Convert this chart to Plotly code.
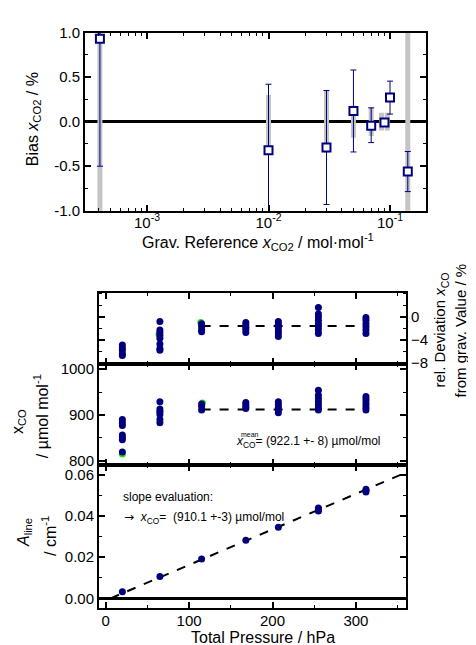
import plotly.graph_objects as go

W, H = 476, 645
FONT = "Liberation Sans, Arial, sans-serif"
NAVY = "#00007f"

# ---------------- top panel data ----------------
ref_x = [0.00041, 0.01, 0.03, 0.05, 0.07, 0.09, 0.1, 0.14]
bias = [0.93, -0.32, -0.29, 0.12, -0.045, -0.01, 0.27, -0.56]
bias_err_plus = [1.5, 0.74, 0.64, 0.46, 0.20, 0.03, 0.185, 0.225]
bias_err_minus = [1.43, 0.74, 0.64, 0.46, 0.19, 0.03, 0.185, 0.225]
gray_x = [0.00041, 0.01, 0.03, 0.05, 0.07, 0.085, 0.095, 0.14]
gray_y = [0, 0, 0, 0, 0, 0, 0, 0]
gray_half = [2.5, 0.30, 0.35, 0.18, 0.16, 0.10, 0.10, 2.5]

# ---------------- bottom panels data ----------------
# panel A: relative deviation (%)
relA_p = [20]*5 + [65]*8 + [115]*4 + [168]*5 + [207]*6 + [255]*8 + [312]*6
relA_v = [-4.9, -5.4, -5.8, -6.4, -6.7,
          -0.8, -2.3, -2.7, -3.2, -3.7, -4.7, -5.5, -5.8,
          -1.2, -1.7, -2.3, -2.6,
          -1.0, -1.4, -1.8, -2.2, -2.7,
          -0.8, -1.3, -1.9, -2.4, -2.9, -3.4,
          1.6, 0.5, -0.05, -0.6, -1.2, -1.7, -2.3, -2.9,
          -0.1, -0.6, -1.2, -1.7, -2.3, -2.9]
greenA_p = [114, 64]
greenA_v = [-1.0, -3.0]
meanA_p = [115, 312]
meanA_v = [-1.6, -1.6]

# panel B: x_CO (umol/mol)
xco_p = [20]*7 + [65]*6 + [115]*3 + [168]*4 + [207]*5 + [255]*7 + [312]*6
xco_v = [890, 883, 877, 856, 851, 846, 819,
         929, 913, 907, 901, 890, 883,
         924, 919, 911,
         927, 922, 918, 914,
         929, 923, 917, 911, 905,
         954, 943, 936, 929, 922, 915, 911,
         940, 934, 928, 922, 916, 911]
greenB_p = [20, 116, 65]
greenB_v = [815, 926, 908]
meanB_p = [115, 312]
meanB_v = [912, 912]

# panel C: A_line (cm^-1)
aline_p = [20, 65, 115, 168, 207, 255, 255, 255, 312, 312, 312]
aline_v = [0.0032, 0.0106, 0.0191, 0.0282, 0.0345, 0.0438, 0.0431, 0.0423, 0.0529, 0.0522, 0.0515]
fit_p = [6, 360]
fit_v = [0.0, 0.061]

def fx(px):
    return px / W

def fy(py):
    return 1 - py / H

fig = go.Figure()

# gray reference-uncertainty bars
fig.add_trace(go.Scatter(
    x=gray_x, y=gray_y, mode="markers", xaxis="x", yaxis="y",
    marker=dict(size=1, color="rgba(0,0,0,0)"),
    error_y=dict(type="data", array=gray_half, color="#c4c4c4", thickness=5, width=0),
    showlegend=False, hoverinfo="skip"))
# bias points
fig.add_trace(go.Scatter(
    x=ref_x, y=bias, mode="markers", xaxis="x", yaxis="y",
    marker=dict(symbol="square", size=8, color="white", line=dict(color=NAVY, width=2)),
    error_y=dict(type="data", array=bias_err_plus, arrayminus=bias_err_minus,
                 color=NAVY, thickness=1, width=3),
    showlegend=False))

# panel A
fig.add_trace(go.Scatter(x=meanA_p, y=meanA_v, mode="lines", xaxis="x2", yaxis="y2",
                         line=dict(color="black", width=2, dash="dash"), showlegend=False))
fig.add_trace(go.Scatter(x=greenA_p, y=greenA_v, mode="markers", xaxis="x2", yaxis="y2",
                         marker=dict(size=7, color="#22dd22"), showlegend=False))
fig.add_trace(go.Scatter(x=relA_p, y=relA_v, mode="markers", xaxis="x2", yaxis="y2",
                         marker=dict(size=7, color=NAVY), showlegend=False))
# panel B
fig.add_trace(go.Scatter(x=meanB_p, y=meanB_v, mode="lines", xaxis="x3", yaxis="y3",
                         line=dict(color="black", width=2, dash="dash"), showlegend=False))
fig.add_trace(go.Scatter(x=greenB_p, y=greenB_v, mode="markers", xaxis="x3", yaxis="y3",
                         marker=dict(size=7, color="#22dd22"), showlegend=False))
fig.add_trace(go.Scatter(x=xco_p, y=xco_v, mode="markers", xaxis="x3", yaxis="y3",
                         marker=dict(size=7, color=NAVY), showlegend=False))
# panel C
fig.add_trace(go.Scatter(x=fit_p, y=fit_v, mode="lines", xaxis="x4", yaxis="y4",
                         line=dict(color="black", width=2, dash="dash"), showlegend=False))
fig.add_trace(go.Scatter(x=aline_p, y=aline_v, mode="markers", xaxis="x4", yaxis="y4",
                         marker=dict(size=7, color=NAVY), showlegend=False))

tickfont = dict(family=FONT, size=15, color="black")
common = dict(showline=True, linewidth=2, linecolor="black", mirror="allticks",
              ticks="inside", ticklen=6, tickwidth=1.5, tickcolor="black",
              showgrid=False, tickfont=tickfont)

log_minor = []
for dec in [1e-4, 1e-3, 1e-2, 1e-1]:
    for m in range(2, 10):
        log_minor.append(m * dec)

fig.update_layout(
    width=W, height=H, margin=dict(l=0, r=0, t=0, b=0),
    paper_bgcolor="white", plot_bgcolor="white",
    font=dict(family=FONT, color="black"),
    showlegend=False,
    xaxis=dict(domain=[fx(77), fx(418)], anchor="y", type="log", range=[-3.51, -0.704],
               tickvals=[1e-3, 1e-2, 1e-1],
               ticktext=["10<sup>-3</sup>", "10<sup>-2</sup>", "10<sup>-1</sup>"],
               ticklabelstandoff=-3,
               minor=dict(ticks="inside", ticklen=3, tickwidth=1, tickcolor="black",
                          tickvals=log_minor),
               zeroline=False, **common),
    yaxis=dict(domain=[fy(199), fy(16)], anchor="x", range=[-1, 1],
               tickvals=[-1, -0.5, 0, 0.5, 1], ticktext=["-1.0", "-0.5", "0.0", "0.5", "1.0"],
               minor=dict(ticks="inside", ticklen=3, tickwidth=1, tickcolor="black", dtick=0.25),
               zeroline=True, zerolinecolor="black", zerolinewidth=2.5, **common),
    xaxis2=dict(domain=[fx(91), fx(398)], anchor="y2", range=[-8, 360], matches="x4",
                tickvals=[0, 100, 200, 300], showticklabels=False,
                minor=dict(ticks="inside", ticklen=3, tickwidth=1, tickcolor="black", dtick=50, tick0=0),
                zeroline=False, **common),
    xaxis3=dict(domain=[fx(91), fx(398)], anchor="y3", range=[-8, 360], matches="x4",
                tickvals=[0, 100, 200, 300], showticklabels=False,
                minor=dict(ticks="inside", ticklen=3, tickwidth=1, tickcolor="black", dtick=50, tick0=0),
                zeroline=False, **common),
    xaxis4=dict(domain=[fx(91), fx(398)], anchor="y4", range=[-8, 360],
                tickvals=[0, 100, 200, 300], ticklabelstandoff=-2,
                minor=dict(ticks="inside", ticklen=3, tickwidth=1, tickcolor="black", dtick=50, tick0=0),
                zeroline=False, **common),
    yaxis2=dict(domain=[fy(356), fy(283)], anchor="x2", side="right", range=[-8.1, 4.2],
                tickvals=[0, -4, -8],
                minor=dict(ticks="inside", ticklen=3, tickwidth=1, tickcolor="black", dtick=2, tick0=0),
                zeroline=False, **common),
    yaxis3=dict(domain=[fy(460), fy(356)], anchor="x3", range=[791, 1012],
                tickvals=[800, 900, 1000],
                minor=dict(ticks="inside", ticklen=3, tickwidth=1, tickcolor="black", dtick=50, tick0=0),
                zeroline=False, **common),
    yaxis4=dict(domain=[fy(607), fy(460)], anchor="x4", range=[-0.0047, 0.0647],
                tickvals=[0, 0.02, 0.04, 0.06], ticktext=["0.00", "0.02", "0.04", "0.06"],
                minor=dict(ticks="inside", ticklen=3, tickwidth=1, tickcolor="black", dtick=0.01, tick0=0),
                zeroline=True, zerolinecolor="black", zerolinewidth=3, **common),
)

def ann(text, x, y, size=15, angle=0, xanchor="center", yanchor="middle"):
    fig.add_annotation(text=text, x=fx(x), y=fy(y), xref="paper", yref="paper",
                       showarrow=False, textangle=angle, xanchor=xanchor, yanchor=yanchor,
                       font=dict(family=FONT, size=size, color="black"))

ann("Bias <i>x</i><sub>CO2</sub> / %", 25, 105, size=16, angle=-90)
ann("Grav. Reference <i>x</i><sub>CO2</sub> / mol·mol<sup>-1</sup>", 250, 231, size=16)
ann("x<sub>CO</sub>", 10, 416, size=16, angle=-90)
ann("/ µmol mol<sup>-1</sup>", 33, 410, size=16, angle=-90)
ann("<i>A</i><sub>line</sub>", 16, 530, size=16, angle=-90)
ann("/ cm<sup>-1</sup>", 41, 533, size=16, angle=-90)
ann("rel. Deviation <i>x</i><sub>CO</sub>", 433, 322, size=15, angle=-90)
ann("from grav. Value / %", 453, 322, size=15, angle=-90)
ann("Total Pressure / hPa", 255, 637, size=16)
ann("<i>x</i><sub>CO</sub>= (922.1 +- 8) µmol/mol", 226, 437, size=12, xanchor="left")
ann("mean", 231, 429, size=7, xanchor="left")
ann("slope evaluation:", 113, 493, size=12, xanchor="left")
ann("<span style='font-family:DejaVu Sans'>→</span>  <i>x</i><sub>CO</sub>=  (910.1 +-3) µmol/mol",
    114, 515, size=12, xanchor="left")

fig.write_html("out.html")
